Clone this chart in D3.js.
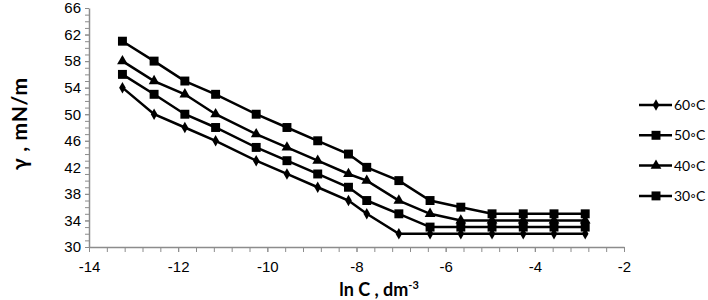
<!DOCTYPE html>
<html>
<head>
<meta charset="utf-8">
<script src="https://cdn.jsdelivr.net/npm/d3@7"></script>
<style>
  body { margin: 0; background: #fff; }
  svg { font-family: Lato, "Open Sans", sans-serif; }
  .axis path, .axis line { stroke: #8c8c8c; }
  .axis text { font-size: 15px; fill: #000; }
</style>
</head>
<body>
<svg id="chart" width="708" height="300"></svg>
<script>
// ln C values (x) shared by all series
const lnC = [-13.25, -12.54, -11.85, -11.16, -10.25, -9.56, -8.87, -8.18,
             -7.77, -7.05, -6.35, -5.66, -4.96, -4.26, -3.57, -2.87];

// surface tension, mN/m
const gamma60 = [54, 50, 48, 46, 43, 41, 39, 37, 35, 32, 32, 32, 32, 32, 32, 32];
const gamma50 = [56, 53, 50, 48, 45, 43, 41, 39, 37, 35, 33, 33, 33, 33, 33, 33];
const gamma40 = [58, 55, 53, 50, 47, 45, 43, 41, 40, 37, 35, 34, 34, 34, 34, 34];
const gamma30 = [61, 58, 55, 53, 50, 48, 46, 44, 42, 40, 37, 36, 35, 35, 35, 35];

const seriesNames = ["60◦C", "50◦C", "40◦C", "30◦C"];
const seriesShapes = ["diamond", "square", "triangle", "square"];
const seriesValues = [gamma60, gamma50, gamma40, gamma30];

const xTicks = [-14, -12, -10, -8, -6, -4, -2];
const yTicks = [30, 34, 38, 42, 46, 50, 54, 58, 62, 66];

const svg = d3.select("#chart");
const margins = {left: 89, top: 8, right: 84, bottom: 53};
const width = +svg.attr("width");
const height = +svg.attr("height");
const chartWidth = width - margins.left - margins.right;
const chartHeight = height - margins.top - margins.bottom;

const xScale = d3.scaleLinear().domain([-14, -2]).range([0, chartWidth]);
const yScale = d3.scaleLinear().domain([30, 66]).range([chartHeight, 0]);

const chart = svg.append("g")
                 .attr("transform", `translate(${margins.left}, ${margins.top})`);

// minor ticks
chart.append("g")
     .attr("class", "axis")
     .attr("transform", `translate(0, ${chartHeight})`)
     .call(d3.axisBottom(xScale).tickValues(d3.range(-14, -1.99, 0.4)).tickSize(5).tickFormat(""))
     .call(g => g.select(".domain").remove());
chart.append("g")
     .attr("class", "axis")
     .call(d3.axisLeft(yScale).tickValues(d3.range(30, 66.01, 1)).tickSize(4).tickFormat(""))
     .call(g => g.select(".domain").remove());

// main axes (plain hyphen for minus, as in the original)
chart.append("g")
     .attr("class", "axis")
     .attr("transform", `translate(0, ${chartHeight})`)
     .call(d3.axisBottom(xScale).tickValues(xTicks).tickSize(5).tickSizeOuter(0)
             .tickPadding(9).tickFormat(d => String(d)))
     .call(g => g.select(".domain").attr("stroke-width", 1.5));
chart.append("g")
     .attr("class", "axis")
     .call(d3.axisLeft(yScale).tickValues(yTicks).tickSize(4).tickSizeOuter(0)
             .tickPadding(4).tickFormat(d => String(d)))
     .call(g => g.select(".domain").attr("stroke-width", 1.5));

const symbolFor = shape => {
  if (shape === "diamond") return d3.symbol(d3.symbolDiamond, 38)();
  if (shape === "triangle") return d3.symbol(d3.symbolTriangle, 50)();
  return d3.symbol(d3.symbolSquare, 80)();
};

const line = d3.line()
               .x((d, i) => xScale(lnC[i]))
               .y(d => yScale(d));

seriesValues.forEach((vals, s) => {
  chart.append("path")
       .attr("d", line(vals))
       .attr("fill", "none")
       .attr("stroke", "#000")
       .attr("stroke-width", 2.5);
  chart.selectAll(null)
       .data(vals)
       .join("path")
       .attr("d", symbolFor(seriesShapes[s]))
       .attr("transform", (d, i) => `translate(${xScale(lnC[i])}, ${yScale(d)})`)
       .attr("fill", "#000");
});

// legend
const legend = svg.append("g").attr("transform", "translate(639, 105)");
seriesNames.forEach((name, s) => {
  const row = legend.append("g").attr("transform", `translate(0, ${s * 30.3})`);
  row.append("line").attr("x1", 0).attr("x2", 33)
     .attr("stroke", "#000").attr("stroke-width", 2.5);
  row.append("path").attr("d", symbolFor(seriesShapes[s]))
     .attr("transform", "translate(17, 0)");
  row.append("text").attr("x", 35).attr("y", 5)
     .style("font-size", "14px").text(name);
});

// axis titles
svg.append("text")
   .attr("x", 379)
   .attr("y", 296)
   .attr("text-anchor", "middle")
   .style("font-size", "18px")
   .style("font-weight", "bold")
   .html('ln C , dm<tspan dy="-7" font-size="11px">-3</tspan>');

svg.append("text")
   .attr("transform", "translate(27, 124) rotate(-90)")
   .attr("text-anchor", "middle")
   .attr("textLength", 92)
   .attr("lengthAdjust", "spacing")
   .style("font-size", "21px")
   .style("font-weight", "bold")
   .text("γ , mN/m");
</script>
</body>
</html>
